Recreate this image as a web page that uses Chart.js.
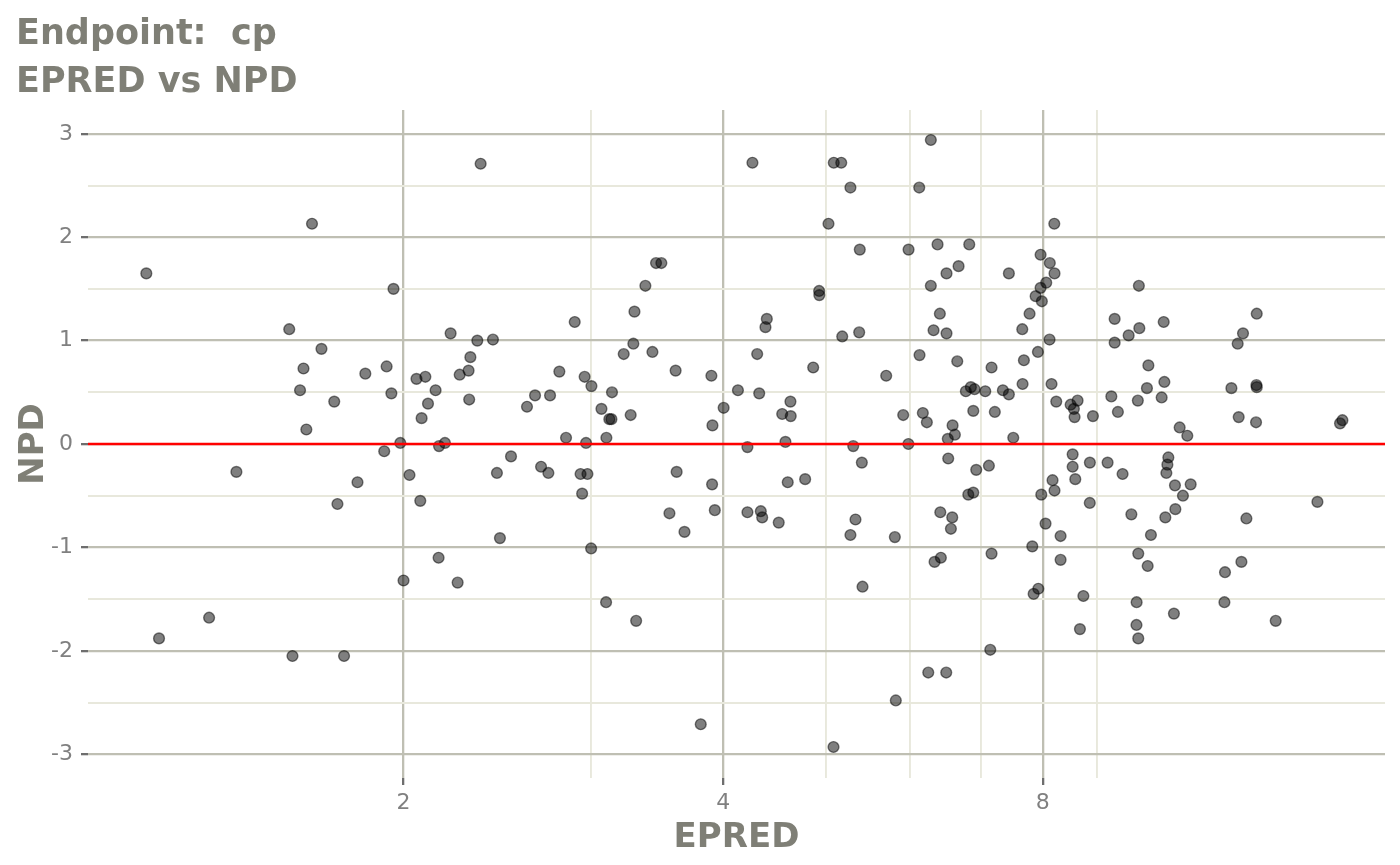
<!DOCTYPE html>
<html>
<head>
<meta charset="utf-8">
<title>EPRED vs NPD</title>
<script src="https://cdn.jsdelivr.net/npm/chart.js@4.4.1/dist/chart.umd.min.js"></script>
<style>
  html, body { margin: 0; padding: 0; background: #ffffff; }
  #wrap { width: 1400px; height: 865px; position: relative; }
</style>
</head>
<body>
<div id="wrap"><canvas id="npdChart"></canvas></div>
<script>
// EPRED (x, log scale) and NPD (y) for each observation
const epred = [
  1.145, 1.177, 1.312, 1.392, 1.561, 1.572, 1.598, 1.610, 1.620, 1.640,
  1.674, 1.721, 1.733, 1.758, 1.810, 1.841, 1.918, 1.928, 1.948, 1.957,
  1.986, 2.000, 2.026, 2.057, 2.080, 2.097, 2.109, 2.144, 2.160, 2.188,
  2.215, 2.259, 2.303, 2.306, 2.312, 2.347, 2.364, 2.428, 2.614, 2.660,
  2.748, 2.804, 2.845, 2.899, 2.962, 2.971, 3.006, 3.072, 3.105, 3.125,
  3.139, 3.143, 3.224, 3.273, 3.292, 3.300, 3.379, 3.431, 3.458, 3.498,
  3.608, 3.899, 3.908, 4.004, 4.130, 2.074, 2.449, 2.525, 2.695, 2.738,
  2.936, 2.980, 2.946, 2.465, 2.158, 2.249, 3.004, 3.103, 3.312, 3.616,
  3.905, 3.928, 3.560, 3.678, 3.810, 4.262, 5.084, 5.167, 6.275, 5.271,
  6.119, 5.026, 8.201, 5.379, 5.979, 6.367, 6.820, 7.961, 8.122, 8.205,
  6.492, 6.664, 7.432, 6.275, 8.059, 7.961, 7.876, 7.983, 4.925, 4.927,
  4.397, 4.384, 6.399, 7.773, 7.651, 6.312, 6.492, 5.178, 5.372, 8.117,
  7.915, 7.678, 6.123, 6.645, 7.158, 4.306, 4.862, 5.696, 4.325, 4.628,
  4.546, 4.631, 6.770, 6.844, 6.899, 7.061, 7.336, 7.432, 7.656, 8.152,
  8.236, 6.880, 7.209, 5.910, 6.167, 6.221, 6.578, 6.611, 6.510, 7.503,
  4.578, 4.216, 5.303, 5.977, 5.403, 6.516, 6.924, 7.117, 4.601, 4.778,
  6.806, 6.880, 8.170, 8.205, 7.973, 4.216, 4.340, 4.353, 4.512, 5.329,
  5.271, 5.804, 6.405, 6.573, 6.554, 8.047, 8.314, 7.819, 7.158, 6.413,
  6.326, 8.314, 5.411, 7.922, 7.842, 7.138, 6.240, 6.488, 5.816, 5.081,
  9.852, 9.348, 10.397, 9.862, 9.636, 9.348, 12.721, 12.348, 12.206, 10.057,
  10.412, 10.026, 9.281, 9.830, 10.351, 12.041, 12.712, 12.721, 8.497, 8.626,
  8.557, 8.570, 8.918, 9.414, 12.233, 12.702, 15.239, 15.318, 10.763, 10.943,
  8.534, 8.534, 8.859, 8.583, 9.206, 9.510, 10.502, 10.480, 10.457, 10.654,
  11.023, 10.840, 8.857, 9.693, 10.434, 10.663, 12.439, 14.510, 10.113, 9.839,
  10.042, 11.875, 12.305, 8.735, 9.804, 11.860, 10.630, 13.255, 8.670, 9.801,
  9.839
];
const npd = [
  1.65, -1.88, -1.68, -0.27, 1.11, -2.05, 0.52, 0.73, 0.14, 2.13,
  0.92, 0.41, -0.58, -2.05, -0.37, 0.68, -0.07, 0.75, 0.49, 1.50,
  0.01, -1.32, -0.30, 0.63, 0.25, 0.65, 0.39, 0.52, -0.02, 0.01,
  1.07, 0.67, 0.71, 0.43, 0.84, 1.00, 2.71, 1.01, 0.36, 0.47,
  0.47, 0.70, 0.06, 1.18, 0.65, 0.01, 0.56, 0.34, 0.06, 0.24,
  0.24, 0.50, 0.87, 0.28, 0.97, 1.28, 1.53, 0.89, 1.75, 1.75,
  0.71, 0.66, 0.18, 0.35, 0.52, -0.55, -0.28, -0.12, -0.22, -0.28,
  -0.29, -0.29, -0.48, -0.91, -1.10, -1.34, -1.01, -1.53, -1.71, -0.27,
  -0.39, -0.64, -0.67, -0.85, -2.71, 2.72, 2.72, 2.72, 2.94, 2.48,
  2.48, 2.13, 2.13, 1.88, 1.88, 1.93, 1.93, 1.83, 1.75, 1.65,
  1.65, 1.72, 1.65, 1.53, 1.56, 1.51, 1.43, 1.38, 1.48, 1.44,
  1.21, 1.13, 1.26, 1.26, 1.11, 1.10, 1.07, 1.04, 1.08, 1.01,
  0.89, 0.81, 0.86, 0.80, 0.74, 0.87, 0.74, 0.66, 0.49, 0.41,
  0.29, 0.27, 0.51, 0.55, 0.53, 0.51, 0.52, 0.48, 0.58, 0.58,
  0.41, 0.32, 0.31, 0.28, 0.30, 0.21, 0.18, 0.09, 0.05, 0.06,
  0.02, -0.03, -0.02, 0.00, -0.18, -0.14, -0.25, -0.21, -0.37, -0.34,
  -0.49, -0.47, -0.35, -0.45, -0.49, -0.66, -0.65, -0.71, -0.76, -0.73,
  -0.88, -0.90, -0.66, -0.71, -0.82, -0.77, -0.89, -0.99, -1.06, -1.10,
  -1.14, -1.12, -1.38, -1.40, -1.45, -1.99, -2.21, -2.21, -2.48, -2.93,
  1.53, 1.21, 1.18, 1.12, 1.05, 0.98, 1.26, 1.07, 0.97, 0.76,
  0.60, 0.54, 0.46, 0.42, 0.45, 0.54, 0.57, 0.55, 0.38, 0.42,
  0.34, 0.26, 0.27, 0.31, 0.26, 0.21, 0.20, 0.23, 0.16, 0.08,
  -0.10, -0.22, -0.18, -0.34, -0.18, -0.29, -0.13, -0.20, -0.28, -0.40,
  -0.39, -0.50, -0.57, -0.68, -0.71, -0.63, -0.72, -0.56, -0.88, -1.06,
  -1.18, -1.24, -1.14, -1.47, -1.53, -1.53, -1.64, -1.71, -1.79, -1.75,
  -1.88
];

const xMajorTicks = [2, 4, 8];
const xMinorTicks = [3, 5, 6, 7, 9];
const yMajorTicks = [-3, -2, -1, 0, 1, 2, 3];
const yMinorTicks = [-2.5, -1.5, -0.5, 0.5, 1.5, 2.5];
const xLimits = [1.009, 16.8];
const yLimits = [-3.23, 3.23];
const refLineY = 0;

const titleLines = ['Endpoint:  cp', 'EPRED vs NPD'];
const xTitle = 'EPRED';
const yTitle = 'NPD';

const textGrey = '#7f7f76';
const tickGrey = '#808080';
const majorGrid = '#bfbfb3';
const minorGrid = '#e8e8dc';

// gridline styling for major / minor breaks
function gridStyle(majors) {
  return {
    color: (c) => majors.includes(c.tick.value) ? majorGrid : minorGrid,
    lineWidth: (c) => majors.includes(c.tick.value) ? 2.3 : 1.9,
    tickColor: (c) => majors.includes(c.tick.value) ? '#6e6e6e' : 'rgba(0,0,0,0)',
    tickLength: 7,
    tickWidth: 2.3,
    drawTicks: true
  };
}

// titles, axis titles and the red zero line
const decorations = {
  id: 'decorations',
  afterDatasetsDraw(chart) {
    const { ctx, chartArea, scales } = chart;
    const y0 = scales.y.getPixelForValue(refLineY);
    ctx.save();
    ctx.strokeStyle = '#ff0000';
    ctx.lineWidth = 2.6;
    ctx.beginPath();
    ctx.moveTo(chartArea.left, y0);
    ctx.lineTo(chartArea.right, y0);
    ctx.stroke();
    ctx.restore();
  },
  afterDraw(chart) {
    const { ctx, chartArea } = chart;
    ctx.save();
    ctx.fillStyle = textGrey;
    ctx.font = 'bold 35px "DejaVu Sans"';
    ctx.textAlign = 'left';
    ctx.textBaseline = 'alphabetic';
    ctx.fillText(titleLines[0], 16, 44);
    ctx.fillText(titleLines[1], 16, 92);

    ctx.font = 'bold 34px "DejaVu Sans"';
    ctx.textAlign = 'center';
    ctx.fillText(xTitle, (chartArea.left + chartArea.right) / 2, 847);

    ctx.translate(43, (chartArea.top + chartArea.bottom) / 2);
    ctx.rotate(-Math.PI / 2);
    ctx.fillText(yTitle, 0, 0);
    ctx.restore();
  }
};

const points = epred.map((x, i) => ({ x: x, y: npd[i] }));

const ctx = document.getElementById('npdChart').getContext('2d');
const npdChart = new Chart(ctx, {
  type: 'scatter',
  data: {
    datasets: [{
      label: 'NPD',
      data: points,
      pointRadius: 5.4,
      pointHoverRadius: 5.4,
      backgroundColor: 'rgba(0,0,0,0.5)',
      borderColor: 'rgba(0,0,0,0.5)',
      borderWidth: 1.4
    }]
  },
  options: {
    responsive: true,
    maintainAspectRatio: false,
    animation: false,
    devicePixelRatio: 1,
    layout: { padding: { top: 110, right: 15, left: 0, bottom: 0 } },
    plugins: {
      legend: { display: false },
      tooltip: { enabled: false },
      title: { display: false }
    },
    scales: {
      x: {
        type: 'logarithmic',
        min: xLimits[0],
        max: xLimits[1],
        afterBuildTicks: (scale) => {
          scale.ticks = xMajorTicks.concat(xMinorTicks)
            .sort((a, b) => a - b)
            .map(v => ({ value: v }));
        },
        afterFit: (scale) => { scale.height = 87; },
        border: { display: false },
        grid: gridStyle(xMajorTicks),
        ticks: {
          autoSkip: false,
          maxRotation: 0,
          padding: 5,
          color: tickGrey,
          font: { family: 'DejaVu Sans', size: 22 },
          callback: (v) => xMajorTicks.includes(v) ? String(v) : ''
        }
      },
      y: {
        type: 'linear',
        min: yLimits[0],
        max: yLimits[1],
        afterBuildTicks: (scale) => {
          scale.ticks = yMajorTicks.concat(yMinorTicks)
            .sort((a, b) => a - b)
            .map(v => ({ value: v }));
        },
        afterFit: (scale) => { scale.width = 88; },
        border: { display: false },
        grid: gridStyle(yMajorTicks),
        ticks: {
          autoSkip: false,
          padding: 8,
          color: tickGrey,
          font: { family: 'DejaVu Sans', size: 22 },
          callback: (v) => yMajorTicks.includes(v) ? String(v) : ''
        }
      }
    }
  },
  plugins: [decorations]
});
</script>
</body>
</html>
